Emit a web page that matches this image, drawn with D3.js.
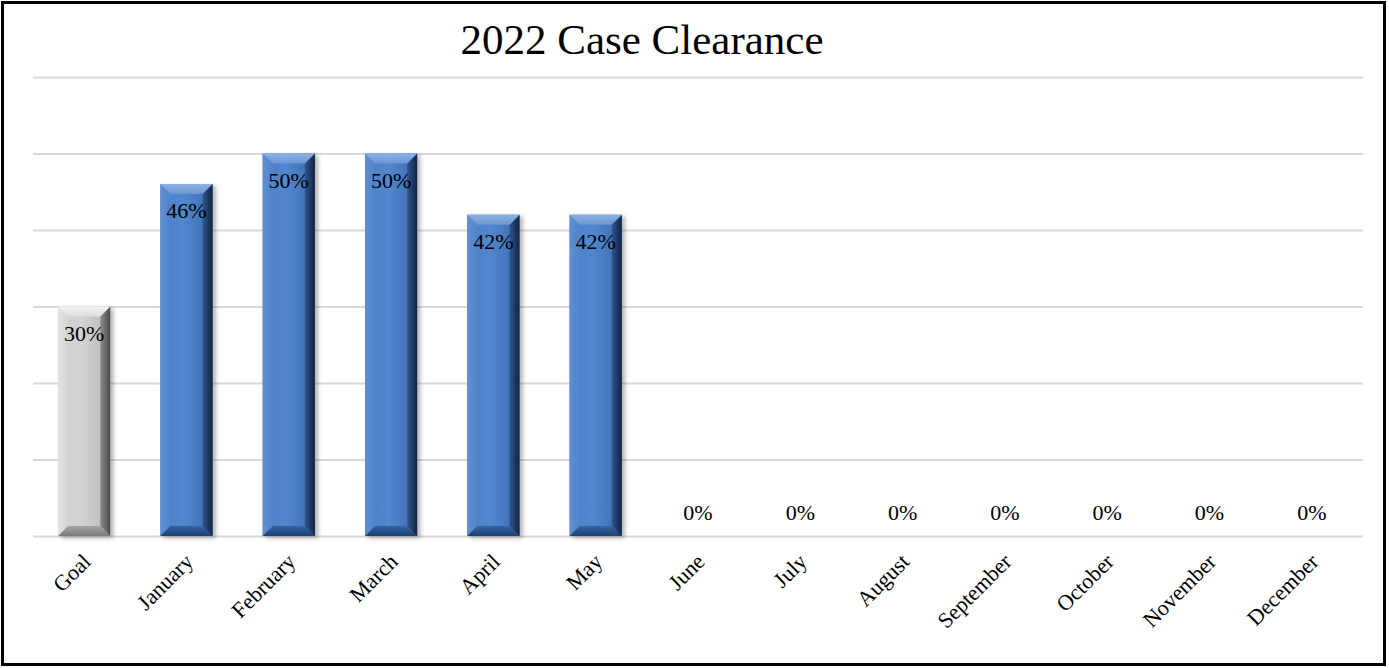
<!DOCTYPE html>
<html><head><meta charset="utf-8">
<script src="https://cdn.jsdelivr.net/npm/d3@7"></script>
<style>html,body{margin:0;padding:0;background:#fff}svg{display:block}</style>
</head><body>
<svg id="c" width="1389" height="668"></svg>
<script>
const categories = ["Goal","January","February","March","April","May","June","July","August","September","October","November","December"];
const values = [30,46,50,50,42,42,0,0,0,0,0,0,0];
const yTicks = [0,10,20,30,40,50,60];
const title = "2022 Case Clearance";

const svg=d3.select("#c");
const m={left:33,right:1363,top:77,bottom:536};
const x=d3.scaleBand().domain(categories).range([m.left,m.right]).paddingInner(0.49).paddingOuter(0.245);
const y=d3.scaleLinear().domain([0,60]).range([m.bottom,m.top]);
const serif="'Liberation Serif','Times New Roman',serif";

const defs=svg.append("defs");
function grad(id,stops,x2,y2){
  const g=defs.append("linearGradient").attr("id",id).attr("x1",0).attr("y1",0).attr("x2",x2).attr("y2",y2);
  stops.forEach(s=>g.append("stop").attr("offset",s[0]).attr("stop-color",s[1]));
}
grad("bMain",[[0,"#4d7fc6"],[0.45,"#5287cf"],[1,"#3a69ad"]],1,0);
grad("bTop",[[0,"#8fb1e2"],[1,"#6a95d4"]],0,1);
grad("bLeft",[[0,"#5f8fd2"],[1,"#5084cb"]],1,0);
grad("bRight",[[0,"#2f5690"],[1,"#10233f"]],1,0);
grad("bBot",[[0,"#3464a6"],[1,"#1f3f6e"]],0,1);
grad("gMain",[[0,"#cfcfcf"],[0.45,"#d3d3d3"],[1,"#b8b8b8"]],1,0);
grad("gTop",[[0,"#f4f4f4"],[1,"#dcdcdc"]],0,1);
grad("gLeft",[[0,"#e2e2e2"],[1,"#d5d5d5"]],1,0);
grad("gRight",[[0,"#8e8e8e"],[1,"#4a4a4a"]],1,0);
grad("gBot",[[0,"#a5a5a5"],[1,"#7a7a7a"]],0,1);
const pal={
  blue:{fill:"url(#bMain)",top:"url(#bTop)",left:"url(#bLeft)",right:"url(#bRight)",bottom:"url(#bBot)"},
  grey:{fill:"url(#gMain)",top:"url(#gTop)",left:"url(#gLeft)",right:"url(#gRight)",bottom:"url(#gBot)"}
};
const f=defs.append("filter").attr("id","sh").attr("x","-20%").attr("y","-5%").attr("width","150%").attr("height","115%");
f.append("feDropShadow").attr("dx",3).attr("dy",2).attr("stdDeviation",2).attr("flood-color","#000").attr("flood-opacity",0.3);

// border
svg.append("rect").attr("x",2.5).attr("y",2.5).attr("width",1382).attr("height",662).attr("fill","#fff").attr("stroke","#000").attr("stroke-width",3);

// gridlines
const yAxis=d3.axisLeft(y).tickValues(yTicks).tickSize(-(m.right-m.left)).tickFormat("");
const ga=svg.append("g").attr("transform",`translate(${m.left},0)`).call(yAxis);
ga.select(".domain").remove();
ga.selectAll(".tick line").attr("stroke","#d9d9d9").attr("stroke-width",2);

// title
svg.append("text").attr("x",642).attr("y",54).attr("text-anchor","middle")
  .attr("font-family",serif).attr("font-size",43).attr("fill","#000").text(title);

// bars
const data=categories.map((c,i)=>({c,v:values[i]}));
const bw=x.bandwidth(), b=10;
const bars=svg.append("g").selectAll("g").data(data.filter(d=>d.v>0)).join("g").attr("filter","url(#sh)");
bars.each(function(d){
  const g=d3.select(this);
  const p=d.c==="Goal"?pal.grey:pal.blue;
  const x0=x(d.c),x1=x0+bw,y0=y(d.v),y1=y(0);
  g.append("rect").attr("x",x0).attr("y",y0).attr("width",bw).attr("height",y1-y0).attr("fill",p.fill);
  const poly=(pts,c)=>g.append("polygon").attr("points",pts.map(q=>q.join(",")).join(" ")).attr("fill",c);
  poly([[x0,y0],[x0+b,y0+b],[x0+b,y1-b],[x0,y1]],p.left);
  poly([[x1,y0],[x1,y1],[x1-b,y1-b],[x1-b,y0+b]],p.right);
  poly([[x0,y1],[x0+b,y1-b],[x1-b,y1-b],[x1,y1]],p.bottom);
  poly([[x0,y0],[x1,y0],[x1-b,y0+b],[x0+b,y0+b]],p.top);
});

// value labels
svg.append("g").selectAll("text").data(data).join("text")
  .attr("x",d=>x(d.c)+bw/2)
  .attr("y",d=>d.v>0?y(d.v)+34:y(0)-16)
  .attr("text-anchor","middle")
  .attr("font-family",serif).attr("font-size",22).attr("fill","#000")
  .text(d=>d.v+"%");

// x axis labels
const xAxis=d3.axisBottom(x).tickSize(0).tickPadding(0);
const gx=svg.append("g").attr("transform",`translate(0,${m.bottom})`).call(xAxis);
gx.select(".domain").remove();
gx.selectAll("text").attr("font-family",serif).attr("font-size",22).attr("fill","#000")
  .attr("text-anchor","end").attr("dy",0).attr("transform","translate(8,27) rotate(-45)");
</script>
</body></html>
